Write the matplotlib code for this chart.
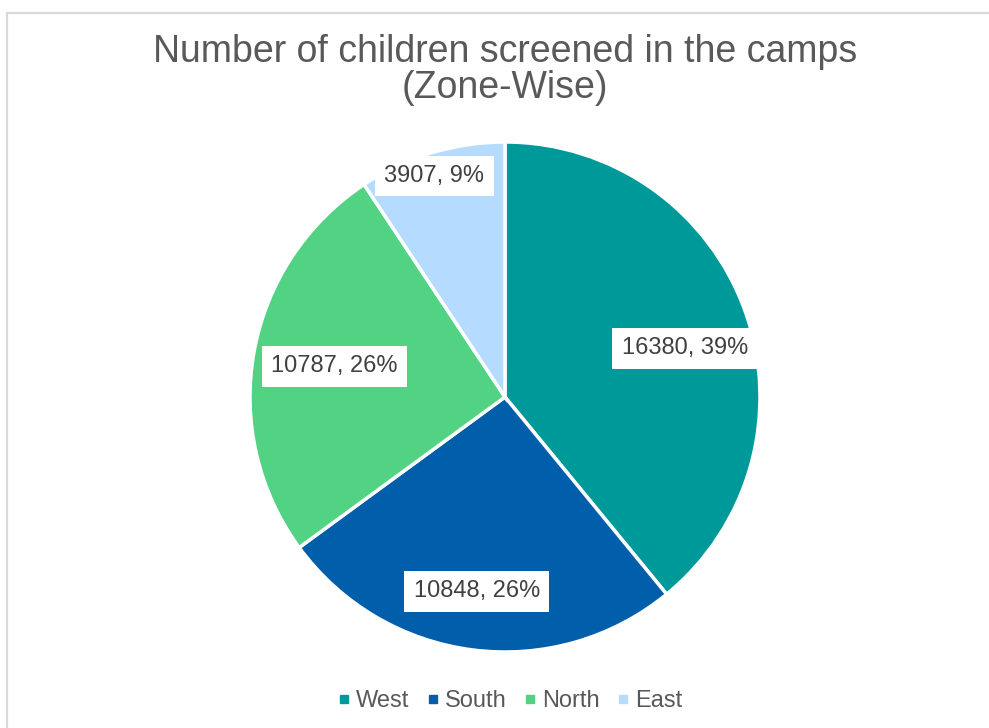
import numpy as np
import matplotlib
matplotlib.use("Agg")
import matplotlib.pyplot as plt
from matplotlib.lines import Line2D
from matplotlib.patches import Rectangle

# Data
zones = ["West", "South", "North", "East"]
counts = [16380, 10848, 10787, 3907]
colors = ["#009999", "#005EAA", "#52D384", "#B5DCFF"]
# data-label placement: fraction of radius and angle nudge (deg) from slice middle
label_dist = [0.73, 0.77, 0.68, 0.91]
label_nudge = [-4.5, -1.0, 0.0, 1.0]

plt.rcParams["font.family"] = ["Liberation Sans", "DejaVu Sans"]

W, H = 989, 728
fig = plt.figure(figsize=(W / 100, H / 100), dpi=100)

# light grey chart border (runs off the right/bottom edges)
fig.patches.append(Rectangle((6.5 / W, -0.05), 1.1, 1 - 13 / H + 0.05,
                             transform=fig.transFigure, fill=False,
                             edgecolor="#d9d9d9", lw=1.6))

# pie axes: centre (505, 397) px, radius 255 px
cx, cy, r = 505, 397, 255
ax = fig.add_axes([(cx - r) / W, (H - cy - r) / H, 2 * r / W, 2 * r / H])

wedges, _ = ax.pie(counts, colors=colors, startangle=90, counterclock=False,
                   radius=1, wedgeprops=dict(edgecolor="white", linewidth=2.5))
ax.set_xlim(-1, 1)
ax.set_ylim(-1, 1)
ax.axis("off")

total = sum(counts)
for w, n, d, nudge in zip(wedges, counts, label_dist, label_nudge):
    mid = np.deg2rad((w.theta1 + w.theta2) / 2 + nudge)
    pct = round(100 * n / total)
    ax.text(d * np.cos(mid), d * np.sin(mid), f"{n}, {pct}%",
            ha="center", va="center", fontsize=17, color="#404040",
            bbox=dict(boxstyle="square,pad=0.4", fc="white", ec="none"))

fig.text(cx / W, 1 - 70 / H, "Number of children screened in the camps\n(Zone-Wise)",
         ha="center", va="center", fontsize=27, color="#595959", linespacing=1.0)

handles = [Line2D([], [], marker="s", ls="none", markersize=6, color=c) for c in colors]
fig.legend(handles, zones, loc="center", bbox_to_anchor=(510 / W, 1 - 701 / H),
           ncol=4, frameon=False, fontsize=17, labelcolor="#595959",
           handlelength=0.5, handletextpad=0.25, columnspacing=0.75)

fig.savefig("out.png", dpi=100)
